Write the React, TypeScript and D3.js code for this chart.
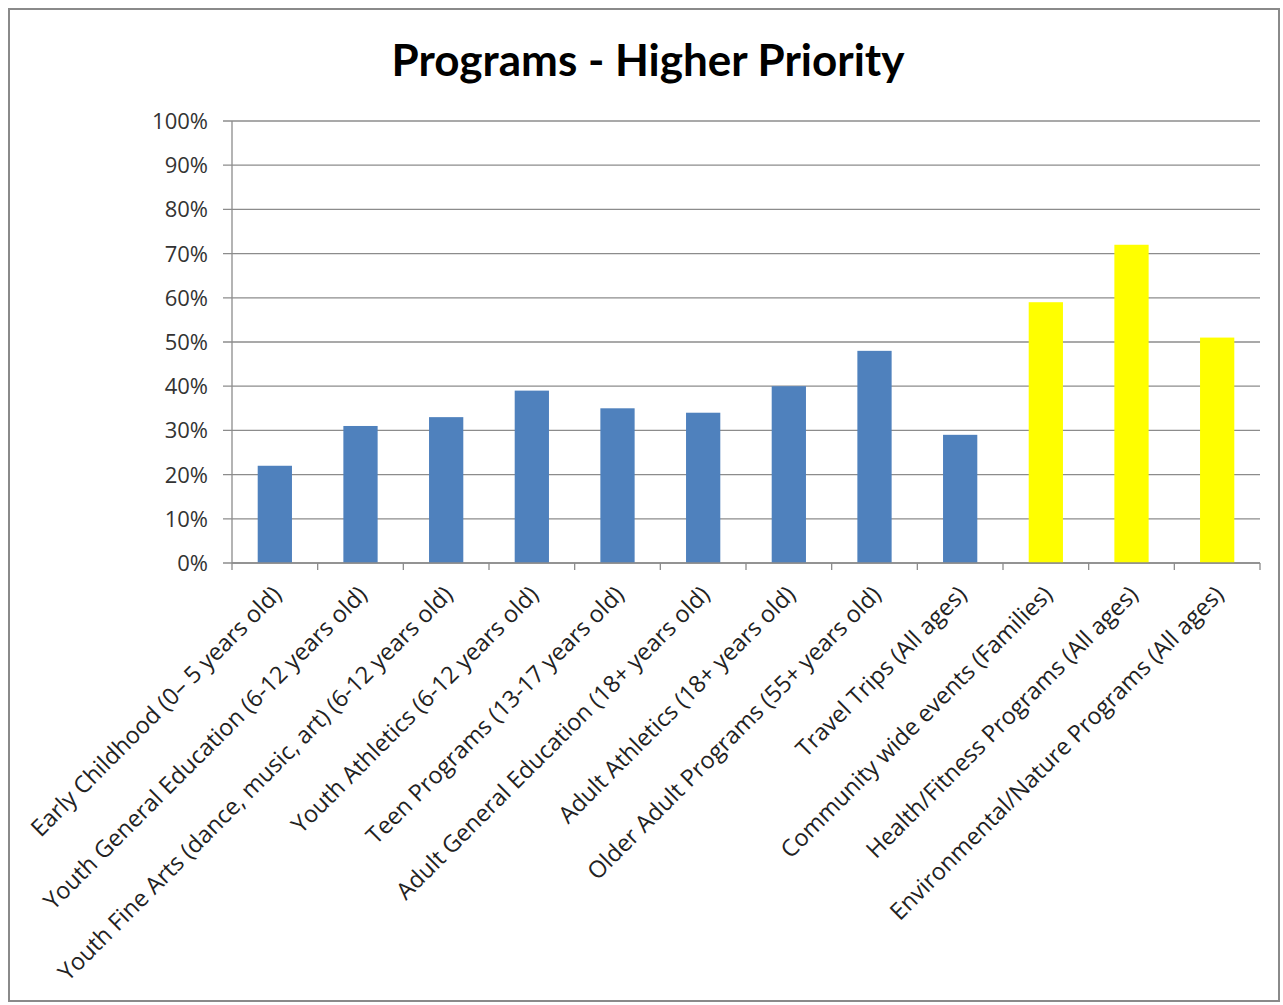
import React, { useEffect, useRef } from "react";
import * as d3 from "d3";

const categories = [
  "Early Childhood (0– 5 years old)",
  "Youth General Education (6-12 years old)",
  "Youth Fine Arts (dance, music, art) (6-12 years old)",
  "Youth Athletics (6-12 years old)",
  "Teen Programs (13-17 years old)",
  "Adult General Education (18+ years old)",
  "Adult Athletics (18+ years old)",
  "Older Adult Programs (55+ years old)",
  "Travel Trips (All ages)",
  "Community wide events (Families)",
  "Health/Fitness Programs (All ages)",
  "Environmental/Nature Programs (All ages)",
];

const values = [22, 31, 33, 39, 35, 34, 40, 48, 29, 59, 72, 51];

// the last three are highlighted in yellow
const highlighted = [false, false, false, false, false, false, false, false, false, true, true, true];

const yTicks = [0, 10, 20, 30, 40, 50, 60, 70, 80, 90, 100];

const W = 1283;
const H = 1005;

export default function App() {
  const ref = useRef<SVGSVGElement>(null);

  useEffect(() => {
    if (!ref.current) return;
    const svg = d3.select(ref.current);
    svg.selectAll("*").remove();

    const left = 232, right = 1260, top = 121, bottom = 563;
    const font = "'Open Sans', Lato, sans-serif";

    // outer frame
    svg.append("rect")
      .attr("x", 9).attr("y", 9)
      .attr("width", 1270).attr("height", 992)
      .attr("fill", "#fff")
      .attr("stroke", "#8a8a8a")
      .attr("stroke-width", 2);

    svg.append("text")
      .attr("x", 648).attr("y", 76)
      .attr("text-anchor", "middle")
      .attr("font-family", "Lato, sans-serif")
      .attr("font-weight", "bold")
      .attr("font-size", 44)
      .attr("fill", "#000")
      .text("Programs - Higher Priority");

    const x = d3.scaleBand<string>()
      .domain(categories)
      .range([left, right])
      .paddingInner(0.6)
      .paddingOuter(0.3);

    const xTick = d3.scaleBand<string>()
      .domain(categories)
      .range([left, right]);

    const y = d3.scaleLinear().domain([0, 100]).range([bottom, top]);

    // gridlines + y tick marks
    svg.append("g")
      .selectAll("line")
      .data(yTicks)
      .enter()
      .append("line")
      .attr("x1", left - 9)
      .attr("x2", right)
      .attr("y1", d => y(d))
      .attr("y2", d => y(d))
      .attr("stroke", "#8c8c8c")
      .attr("stroke-width", 1.3);

    svg.append("g")
      .selectAll("text")
      .data(yTicks)
      .enter()
      .append("text")
      .attr("x", left - 24)
      .attr("y", d => y(d))
      .attr("dy", "0.36em")
      .attr("text-anchor", "end")
      .attr("font-family", font)
      .attr("font-size", 22)
      .attr("fill", "#333")
      .text(d => `${d}%`);

    // bars
    svg.append("g")
      .selectAll("rect")
      .data(values)
      .enter()
      .append("rect")
      .attr("x", (_d, i) => x(categories[i])!)
      .attr("width", x.bandwidth())
      .attr("y", d => y(d))
      .attr("height", d => bottom - y(d))
      .attr("fill", (_d, i) => (highlighted[i] ? "#ffff00" : "#4f81bd"));

    // axes lines
    svg.append("line")
      .attr("x1", left).attr("x2", left)
      .attr("y1", top).attr("y2", bottom)
      .attr("stroke", "#8c8c8c").attr("stroke-width", 1.3);

    svg.append("line")
      .attr("x1", left).attr("x2", right)
      .attr("y1", bottom).attr("y2", bottom)
      .attr("stroke", "#8c8c8c").attr("stroke-width", 1.3);

    // category tick marks
    const tickPos = [...categories.map(c => xTick(c)!), right];
    svg.append("g")
      .selectAll("line")
      .data(tickPos)
      .enter()
      .append("line")
      .attr("x1", d => d).attr("x2", d => d)
      .attr("y1", bottom).attr("y2", bottom + 7)
      .attr("stroke", "#8c8c8c").attr("stroke-width", 1.3);

    // rotated category labels
    svg.append("g")
      .selectAll("text")
      .data(categories)
      .enter()
      .append("text")
      .attr("transform", d => `translate(${xTick(d)! + xTick.bandwidth() / 2 + 8},${bottom + 33}) rotate(-45)`)
      .attr("text-anchor", "end")
      .attr("font-family", font)
      .attr("font-size", 23.5)
      .attr("fill", "#222")
      .text(d => d);
  }, []);

  return (
    <svg
      ref={ref}
      width={W}
      height={H}
      style={{ position: "absolute", left: 0, top: 0, background: "#fff" }}
    />
  );
}
